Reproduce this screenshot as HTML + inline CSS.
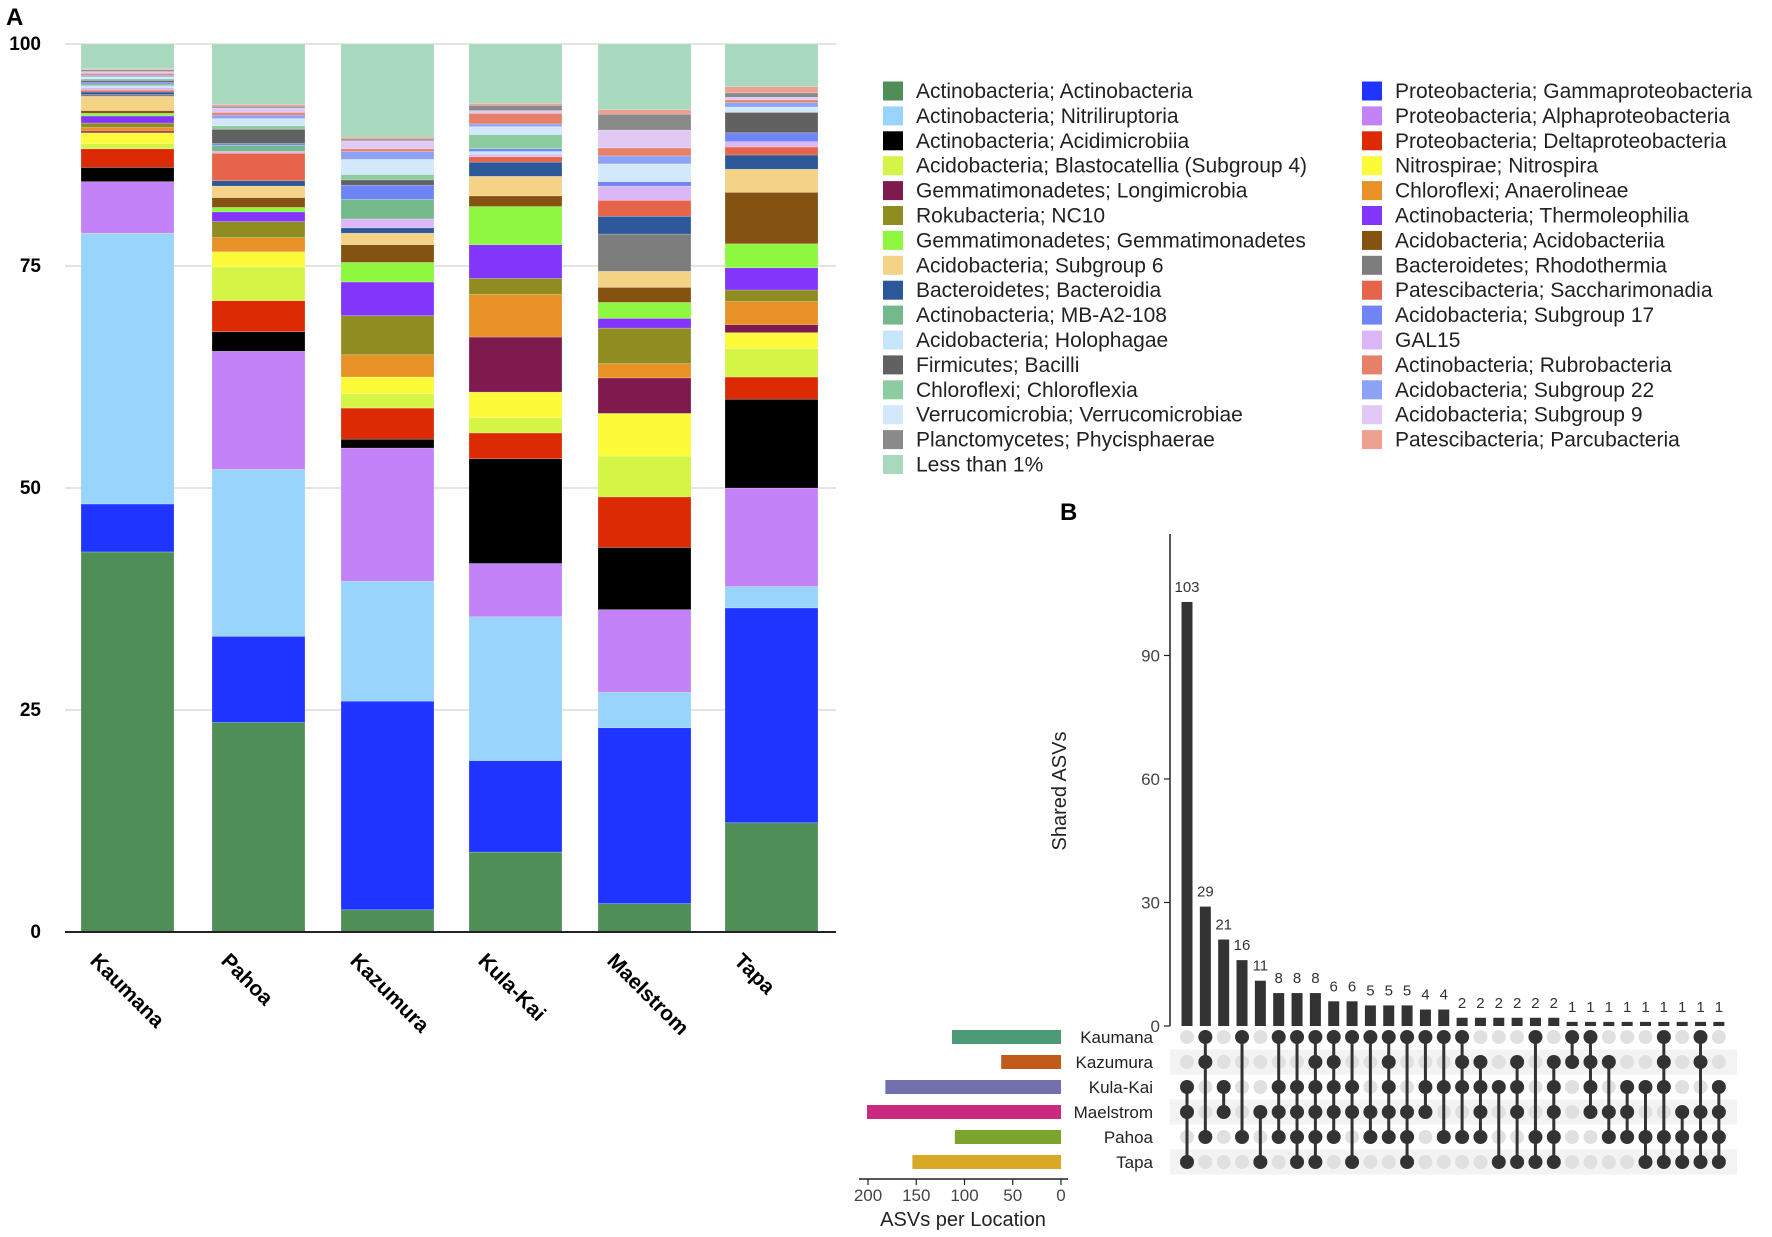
<!DOCTYPE html>
<html><head><meta charset="utf-8"><style>
body{margin:0;background:#fff;font-family:"Liberation Sans",sans-serif}
svg{display:block}
</style></head><body>
<svg id="fig" width="1772" height="1237" viewBox="0 0 1772 1237" xmlns="http://www.w3.org/2000/svg" font-family="Liberation Sans, sans-serif">
<text x="6" y="25" font-size="24" font-weight="bold">A</text>
<text x="1060" y="520" font-size="24" font-weight="bold">B</text>
<g id="gA"></g>
<g id="gL"></g>
<g id="gB"></g>
</svg>
<script>
const sites = ["Kaumana","Pahoa","Kazumura","Kula-Kai","Maelstrom","Tapa"];
const taxa = ["Actinobacteria; Actinobacteria","Proteobacteria; Gammaproteobacteria","Actinobacteria; Nitriliruptoria","Proteobacteria; Alphaproteobacteria","Actinobacteria; Acidimicrobiia","Proteobacteria; Deltaproteobacteria","Acidobacteria; Blastocatellia (Subgroup 4)","Nitrospirae; Nitrospira","Gemmatimonadetes; Longimicrobia","Chloroflexi; Anaerolineae","Rokubacteria; NC10","Actinobacteria; Thermoleophilia","Gemmatimonadetes; Gemmatimonadetes","Acidobacteria; Acidobacteriia","Acidobacteria; Subgroup 6","Bacteroidetes; Rhodothermia","Bacteroidetes; Bacteroidia","Patescibacteria; Saccharimonadia","GAL15","Acidobacteria; Holophagae","Actinobacteria; MB-A2-108","Acidobacteria; Subgroup 17","Firmicutes; Bacilli","Chloroflexi; Chloroflexia","Verrucomicrobia; Verrucomicrobiae","Acidobacteria; Subgroup 22","Actinobacteria; Rubrobacteria","Acidobacteria; Subgroup 9","Planctomycetes; Phycisphaerae","Patescibacteria; Parcubacteria","Less than 1%"];
const taxaColors = ["#4f8f57","#1f35ff","#98d4fc","#c382f8","#000000","#dc2a05","#d4f545","#fdfa3a","#7f1a4e","#e89126","#8f8d21","#8236fa","#8ef73f","#845211","#f4d286","#7d7d7d","#2c5899","#e5644a","#dbb7f7","#c6e6fc","#74b98c","#6f84f5","#616161","#8dcba1","#d3e9fb","#8da2f5","#e5806a","#e2c9f5","#8a8a8a","#eca090","#a8d8bd"];
const valKaumana = [42.8,5.4,30.5,5.8,1.6,2.1,0.6,1.2,0.2,0.4,0.5,0.8,0.3,0.3,1.6,0.2,0.3,0.2,0.3,0.2,0.2,0.2,0.2,0.2,0.2,0.2,0.2,0.2,0.2,0.1,2.8];
const valPahoa = [23.6,9.7,18.8,13.3,2.2,3.5,3.8,1.7,0,1.6,1.8,1.1,0.5,1.1,1.3,0,0.6,3.1,0.2,0,0.7,0.2,1.6,0.4,0.8,0.4,0.3,0.5,0.2,0.2,6.8];
const valKazumura = [2.5,23.5,13.5,15,1,3.5,1.6,1.9,0,2.5,4.4,3.8,2.2,2,1.3,0,0.6,0,1.0,0,2.2,1.6,0.6,0.6,1.7,0.9,0.3,0.9,0.2,0.2,10.5];
const valKulaKai = [9,10.3,16.2,6,11.8,2.9,1.7,2.9,6.2,4.8,1.8,3.8,4.3,1.2,2.2,0,1.6,0.6,0.3,0.3,0,0.3,0,1.6,0.9,0.3,1.2,0.3,0.6,0.2,6.7];
const valMaelstrom = [3.2,19.8,4,9.3,7,5.7,4.6,4.8,4,1.6,4,1.1,1.8,1.7,1.8,4.2,2,1.8,1.6,0,0,0.5,0,0,2.0,0.9,0.9,2.0,1.8,0.5,7.4];
const valTapa = [12.3,24.2,2.4,11.1,10,2.5,3.2,1.8,0.9,2.6,1.3,2.5,2.7,5.8,2.6,0,1.6,0.9,0.6,0,0,1,2.3,0,0.6,0.5,0.3,0.3,0.5,0.7,4.8];
const siteValues = [valKaumana,valPahoa,valKazumura,valKulaKai,valMaelstrom,valTapa];
const yTicksA = [0,25,50,75,100];
const legendCol1 = [0,2,4,6,8,10,12,14,16,20,19,22,23,24,28,30];
const legendCol2 = [1,3,5,7,9,11,13,15,17,21,18,26,25,27,29];

const setNames = ["Kaumana","Kazumura","Kula-Kai","Maelstrom","Pahoa","Tapa"];
const setSizes = [113,62,182,201,110,154];
const setColors = ["#4e9a78","#c25a1c","#7470b0","#c92a7f","#7aa42e","#d9a825"];
const interCounts = [103,29,21,16,11,8,8,8,6,6,5,5,5,4,4,2,2,2,2,2,2,1,1,1,1,1,1,1,1,1];
const interMembers = [[2,3,5],[0,1,4],[2,3],[0,4],[3,5],[0,2,3,4],[0,2,3,4,5],[0,1,2,3,4,5],[0,1,2,3,4],[0,2,3,5],[0,3,4],[0,1,2,3,4],[0,3,4,5],[0,2,3],[0,2,4],[0,1,2,4],[1,2,3,4],[2,5],[1,2,3,5],[0,4,5],[1,2,3,4,5],[0,1],[0,1,2,3],[1,3,4],[2,3,4],[2,4,5],[0,1,2,4,5],[3,4,5],[0,1,3,4,5],[2,3,4,5]];
const yTicksB = [0,30,60,90];
const xTicksB = [0,50,100,150,200];

const NS="http://www.w3.org/2000/svg";
function mk(tag,attrs,parent){const e=document.createElementNS(NS,tag);for(const k in attrs)e.setAttribute(k,attrs[k]);parent.appendChild(e);return e;}

const gA=document.getElementById('gA');
const yA=v=>932-v*8.88;
const barLeft=[81,212,341,469,598,725], barW=93;
const xA=i=>barLeft[i];
yTicksA.forEach(t=>{
  if(t>0){const l=mk('line',{x1:65,x2:836,y1:yA(t),y2:yA(t),stroke:'#dcdcdc','stroke-width':1.5},gA);
  
  }
  const tx=mk('text',{x:41,y:yA(t)+6,'text-anchor':'end','font-size':19,'font-weight':'bold'},gA);tx.textContent=t;
  
  
});
siteValues.forEach((vals,i)=>{
  let cum=0;
  vals.forEach((v,k)=>{
    if(v<=0)return;
    const r=mk('rect',{x:xA(i),width:barW,y:yA(cum+v),height:v*8.88,fill:taxaColors[k],stroke:'rgba(255,255,255,0.35)','stroke-width':0.6},gA);
    
    
    cum+=v;
  });
  const tx=mk('text',{x:xA(i)+8,y:962,'font-size':21,'font-weight':'bold',transform:`rotate(45 ${xA(i)+8} 962)`},gA);
  tx.textContent=sites[i];
  
  
});
const ax=mk('line',{x1:65,x2:836,y1:932,y2:932,stroke:'#222','stroke-width':2},gA);



const gL=document.getElementById('gL');
[[legendCol1,883],[legendCol2,1362]].forEach(([col,x0])=>{
  col.forEach((k,j)=>{
    const cy=91+j*24.9;
    const r=mk('rect',{x:x0,y:cy-9.5,width:20,height:19,fill:taxaColors[k]},gL);
    
    
    const t=mk('text',{x:x0+33,y:cy+7,'font-size':21,fill:'#222'},gL);t.textContent=taxa[k];
    
    
  });
});

const gB=document.getElementById('gB');
const yB=v=>1026-v*4.117;
const xB=i=>1187+i*18.34;
const rowY=r=>1037+r*25;
for(let r=1;r<6;r+=2){const s=mk('rect',{x:1170,y:rowY(r)-12.5,width:567,height:25,fill:'#f3f3f3'},gB);

}
const yax=mk('line',{x1:1170,x2:1170,y1:534,y2:1026,stroke:'#222','stroke-width':1.5},gB);


yTicksB.forEach(t=>{
  mk('line',{x1:1164,x2:1170,y1:yB(t),y2:yB(t),stroke:'#222','stroke-width':1.2},gB);
  const tx=mk('text',{x:1160,y:yB(t)+6,'text-anchor':'end','font-size':17,fill:'#444'},gB);tx.textContent=t;
  
  
});
const yt=mk('text',{x:1066,y:791,'text-anchor':'middle','font-size':20,fill:'#222',transform:'rotate(-90 1066 791)'},gB);
yt.textContent='Shared ASVs';


interCounts.forEach((c,i)=>{
  const b=mk('rect',{x:xB(i)-5.5,y:yB(c),width:11,height:c*4.117,fill:'#333'},gB);
  
  
  const t=mk('text',{x:xB(i),y:yB(c)-10,'text-anchor':'middle','font-size':15,fill:'#333'},gB);t.textContent=c;
  
  
  const m=interMembers[i];
  for(let r=0;r<6;r++){
    const on=m.includes(r);
    const d=mk('circle',{cx:xB(i),cy:rowY(r),r:7,fill:on?'#333':'#e0e0e0'},gB);
    
    
  }
  if(m.length>1){const l=mk('line',{x1:xB(i),x2:xB(i),y1:rowY(Math.min(...m)),y2:rowY(Math.max(...m)),stroke:'#333','stroke-width':3},gB);
  
  }
});
const xSz=v=>1061-v*0.965;
setNames.forEach((n,r)=>{
  const b=mk('rect',{x:xSz(setSizes[r]),y:rowY(r)-7,width:setSizes[r]*0.965,height:14,fill:setColors[r]},gB);
  
  
  const t=mk('text',{x:1153,y:rowY(r)+6,'text-anchor':'end','font-size':17,fill:'#222'},gB);t.textContent=n;
  
  
});
const xax=mk('line',{x1:859,x2:1068,y1:1179,y2:1179,stroke:'#222','stroke-width':1.5},gB);


xTicksB.forEach(t=>{
  mk('line',{x1:xSz(t),x2:xSz(t),y1:1179,y2:1185,stroke:'#222','stroke-width':1.2},gB);
  const tx=mk('text',{x:xSz(t),y:1201,'text-anchor':'middle','font-size':17,fill:'#444'},gB);tx.textContent=t;
  
  
});
const xt=mk('text',{x:963,y:1226,'text-anchor':'middle','font-size':20,fill:'#222'},gB);
xt.textContent='ASVs per Location';


</script>
</body></html>
